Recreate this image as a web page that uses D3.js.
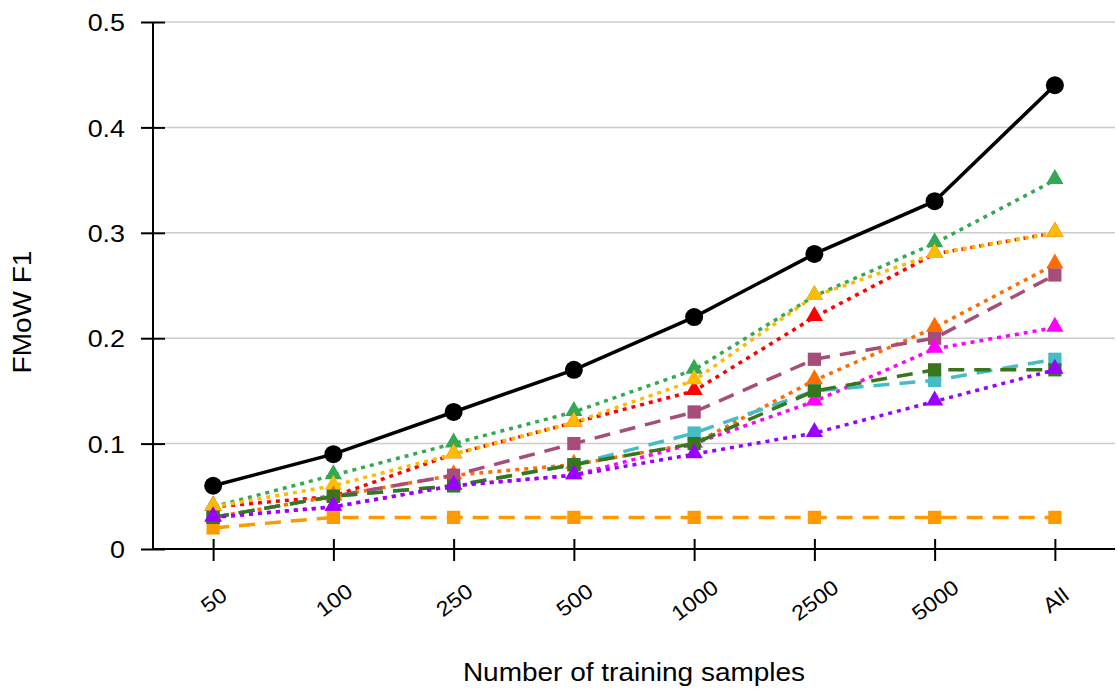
<!DOCTYPE html>
<html>
<head>
<meta charset="utf-8">
<script src="https://cdn.jsdelivr.net/npm/d3@7"></script>
<style>
  body { margin: 0; background: #fff; }
  text { font-family: "Liberation Sans", Arial, sans-serif; fill: #000; }
</style>
</head>
<body>
<script>
const WIDTH = 1117;
const HEIGHT = 691;

// categories along x
const samples = ["50", "100", "250", "500", "1000", "2500", "5000", "All"];
const yTicks = [0, 0.1, 0.2, 0.3, 0.4, 0.5];

// series values (F1)
const orangeSq   = [0.02, 0.03, 0.03, 0.03, 0.03, 0.03, 0.03, 0.03];
const greenTri   = [0.04, 0.07, 0.10, 0.13, 0.17, 0.24, 0.29, 0.35];
const amberTri   = [0.04, 0.06, 0.09, 0.12, 0.16, 0.24, 0.28, 0.30];
const redTri     = [0.04, 0.05, 0.09, 0.12, 0.15, 0.22, 0.28, 0.30];
const orangeTri  = [0.03, 0.05, 0.07, 0.08, 0.10, 0.16, 0.21, 0.27];
const mauveSq    = [0.03, 0.05, 0.07, 0.10, 0.13, 0.18, 0.20, 0.26];
const magentaTri = [0.03, 0.04, 0.06, 0.07, 0.10, 0.14, 0.19, 0.21];
const cyanSq     = [0.03, 0.05, 0.06, 0.08, 0.11, 0.15, 0.16, 0.18];
const dkGreenSq  = [0.03, 0.05, 0.06, 0.08, 0.10, 0.15, 0.17, 0.17];
const purpleTri  = [0.03, 0.04, 0.06, 0.07, 0.09, 0.11, 0.14, 0.17];
const blackCirc  = [0.06, 0.09, 0.13, 0.17, 0.22, 0.28, 0.33, 0.44];

const series = [
  { values: orangeSq,   color: "#ff9900", dash: "16,10", mark: "square" },
  { values: greenTri,   color: "#34a853", dash: "4,5",   mark: "triangle" },
  { values: redTri,     color: "#ff0000", dash: "4,5",   mark: "triangle" },
  { values: amberTri,   color: "#fbbc04", dash: "4,5",   mark: "triangle" },
  { values: orangeTri,  color: "#ff6d01", dash: "4,5",   mark: "triangle" },
  { values: mauveSq,    color: "#a64d79", dash: "16,10", mark: "square" },
  { values: magentaTri, color: "#ff00ff", dash: "4,5",   mark: "triangle" },
  { values: cyanSq,     color: "#46bdc6", dash: "16,10", mark: "square" },
  { values: dkGreenSq,  color: "#38761d", dash: "16,10", mark: "square" },
  { values: purpleTri,  color: "#9900ff", dash: "4,5",   mark: "triangle" },
  { values: blackCirc,  color: "#000000", dash: null,    mark: "circle" }
];

const plotL = 153, plotR = 1115, plotT = 22, plotB = 549;
const WIDE = 1.12; // reference font runs a bit wider than Arial

const svg = d3.select("body")
  .append("svg")
  .attr("width", WIDTH)
  .attr("height", HEIGHT);

const x = d3.scalePoint().domain(samples).range([plotL, plotR]).padding(0.5);
const y = d3.scaleLinear().domain([0, 0.5]).range([plotB, plotT]);

// gridlines
svg.append("g")
  .selectAll("line")
  .data(yTicks.filter(d => d > 0))
  .join("line")
  .attr("x1", plotL + 12)
  .attr("x2", plotR)
  .attr("y1", d => y(d))
  .attr("y2", d => y(d))
  .attr("stroke", "#cccccc")
  .attr("stroke-width", 1.5);

// y axis
const yAxis = svg.append("g")
  .attr("transform", `translate(${plotL},0)`)
  .call(d3.axisLeft(y).tickValues(yTicks).tickSize(12)
    .tickFormat(d => d === 0 ? "0" : d3.format(".1f")(d)));
yAxis.select(".domain").attr("stroke", "#000").attr("stroke-width", 2).attr("d", `M0,${plotT}V${plotB}`);
yAxis.selectAll(".tick line").attr("x2", -12).attr("x1", 12).attr("stroke", "#000").attr("stroke-width", 2);
yAxis.selectAll(".tick text")
  .attr("font-size", 24)
  .attr("font-family", "Liberation Sans, Arial, sans-serif")
  .attr("x", 0)
  .attr("dy", "0.36em")
  .attr("transform", `translate(-28,0) scale(${WIDE},1)`);

// x axis
const xAxis = svg.append("g")
  .attr("transform", `translate(0,${plotB})`)
  .call(d3.axisBottom(x).tickSize(12).tickSizeOuter(0));
xAxis.select(".domain").attr("stroke", "#000").attr("stroke-width", 2).attr("d", `M${plotL},0H${plotR}`);
xAxis.selectAll(".tick line").attr("y1", -10).attr("y2", 12).attr("stroke", "#000").attr("stroke-width", 2);
xAxis.selectAll(".tick text")
  .attr("font-size", 21)
  .attr("font-family", "Liberation Sans, Arial, sans-serif")
  .attr("text-anchor", "middle")
  .attr("y", 0)
  .attr("dy", "0.36em")
  .attr("transform", `translate(0,51) rotate(-37) scale(${WIDE},1)`);

// lines + markers
const line = d3.line()
  .x((d, i) => x(samples[i]))
  .y(d => y(d));

const tri = d3.symbol().type(d3.symbolTriangle).size(130);
const sq = d3.symbol().type(d3.symbolSquare).size(175);

series.forEach(s => {
  const g = svg.append("g");
  g.append("path")
    .datum(s.values)
    .attr("d", line)
    .attr("fill", "none")
    .attr("stroke", s.color)
    .attr("stroke-width", 3.5)
    .attr("stroke-dasharray", s.dash);

  const pts = g.selectAll(".pt")
    .data(s.values)
    .join(s.mark === "circle" ? "circle" : "path")
    .attr("fill", s.color);

  if (s.mark === "circle") {
    pts.attr("cx", (d, i) => x(samples[i])).attr("cy", d => y(d)).attr("r", 9);
  } else {
    pts.attr("d", s.mark === "square" ? sq : tri)
      .attr("transform", (d, i) => `translate(${x(samples[i])},${y(d) - (s.mark === "triangle" ? 1 : 0)})`);
  }
});

// axis titles
svg.append("text")
  .attr("transform", `translate(${(plotL + plotR) / 2},681) scale(${WIDE},1)`)
  .attr("text-anchor", "middle")
  .attr("font-size", 25)
  .text("Number of training samples");

svg.append("text")
  .attr("transform", `translate(31,312) rotate(-90) scale(${WIDE},1)`)
  .attr("text-anchor", "middle")
  .attr("font-size", 25)
  .text("FMoW F1");
</script>
</body>
</html>
